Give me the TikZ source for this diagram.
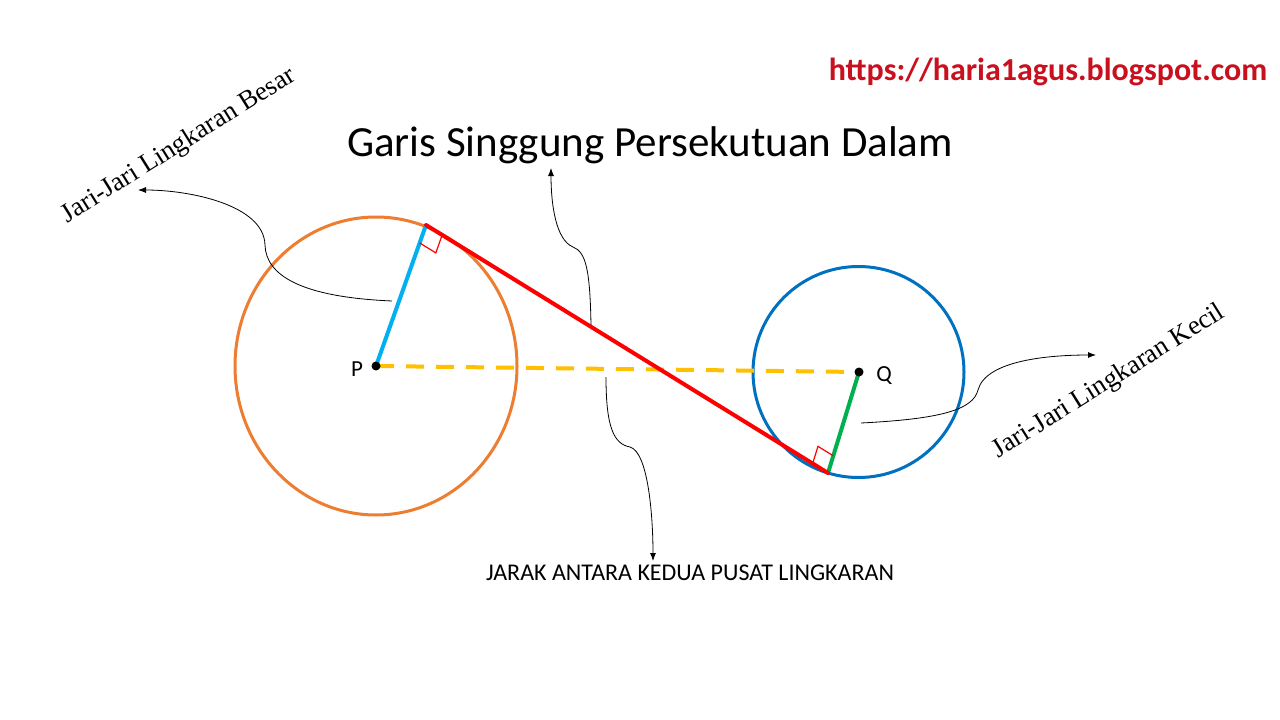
\documentclass[tikz,border=0pt]{standalone}
\usepackage{fontspec}
\setmainfont{Carlito}
\newfontfamily\tnr{Liberation Serif}
\usetikzlibrary{arrows.meta,calc}
\definecolor{bigc}{HTML}{ED7D31}
\definecolor{smallc}{HTML}{0070C0}
\definecolor{radblue}{HTML}{00B0F0}
\definecolor{radgreen}{HTML}{00B050}
\definecolor{distc}{HTML}{FFC000}
\definecolor{urlred}{HTML}{C8101E}
\tikzset{
  circ/.style={line width=3pt},
  tangent/.style={red, line width=4pt},
  radius line/.style={line width=4pt},
  dist/.style={distc, line width=4pt, dash pattern=on 18pt off 12pt},
  rightmark/.style={red, line width=1.2pt},
  callout/.style={black, line width=0.8pt, -{Latex[length=8pt,width=6pt]}},
  serlabel/.style={font=\tnr\fontsize{26.8}{32}\selectfont, rotate=32, inner sep=0pt},
  ptlabel/.style={font=\fontsize{23}{27}\selectfont, inner sep=0pt},
}
\begin{document}
\begin{tikzpicture}[x=1pt,y=-1pt]
\useasboundingbox (0,0) rectangle (1280,720);
\fill[white] (0,0) rectangle (1280,720);
% key points
\coordinate (P) at (376,366);
\coordinate (Q) at (859,372);
\coordinate (T1) at (426,225);
\coordinate (T2) at (828,473);
% circles
\draw[circ, bigc] (P) ellipse [x radius=141, y radius=149];
\draw[circ, smallc] (858.5,372) circle [radius=105.5];
% radii
\draw[radius line, radblue] (P) -- (T1);
\draw[radius line, radgreen] (Q) -- (T2);
% distance
\draw[dist] (P) -- (Q);
% tangent
\draw[tangent, line cap=round] (T1) -- (T2);
% right-angle marks
\coordinate (m1a) at ($(T1)!19pt!(P)$);
\coordinate (m1b) at ($(T1)!19pt!(T2)$);
\coordinate (m1c) at ($(m1a)+(m1b)-(T1)$);
\draw[rightmark] (m1a) -- (m1c) -- (m1b);
\coordinate (m2a) at ($(T2)!18pt!(Q)$);
\coordinate (m2b) at ($(T2)!18pt!(T1)$);
\coordinate (m2c) at ($(m2a)+(m2b)-(T2)$);
\draw[rightmark] (m2a) -- (m2c) -- (m2b);
% dots
\fill (P) circle [radius=4.5];
\fill (Q) circle [radius=4.5];
% labels
\node[ptlabel] (Plab) at (357,369) {P};
\node[ptlabel] (Qlab) at (884,376) {Q};
\node[font=\fontsize{43}{50}\selectfont, inner sep=0pt] (title) at (650,145) {Garis Singgung Persekutuan Dalam};
\node[font=\bfseries\fontsize{32}{38}\selectfont, text=urlred, inner sep=0pt] (url) at (1048,72) {https://haria1agus.blogspot.com};
\node[font=\fontsize{24}{28}\selectfont, inner sep=0pt] (jarak) at (690,573) {JARAK ANTARA KEDUA PUSAT LINGKARAN};
\node[serlabel] (besar) at (179,146) {Jari-Jari Lingkaran Besar};
\node[serlabel] (kecil) at (1109,382) {Jari-Jari Lingkaran Kecil};
% callout anchor coordinates
\coordinate (c1s) at (392,301);
\coordinate (c1e) at (138,190);
\coordinate (c2s) at (591,325);
\coordinate (c2e) at (551,168);
\coordinate (c3s) at (606,377);
\coordinate (c3e) at (653,561);
\coordinate (c4s) at (861,423);
\coordinate (c4e) at (1096,355);
\draw[callout] (c1s) .. controls (300,297) and (266,275) .. (265,245) .. controls (264,205) and (190,190) .. (c1e);
\draw[callout] (c2s) .. controls (590,270) and (586,252) .. (573,247) .. controls (556,240) and (551,205) .. (c2e);
\draw[callout] (c3s) .. controls (606,428) and (614,444) .. (630,447) .. controls (648,452) and (653,515) .. (c3e);
\draw[callout] (c4s) .. controls (940,419) and (973,410) .. (978,390) .. controls (986,360) and (1050,355) .. (c4e);
\end{tikzpicture}
\end{document}
